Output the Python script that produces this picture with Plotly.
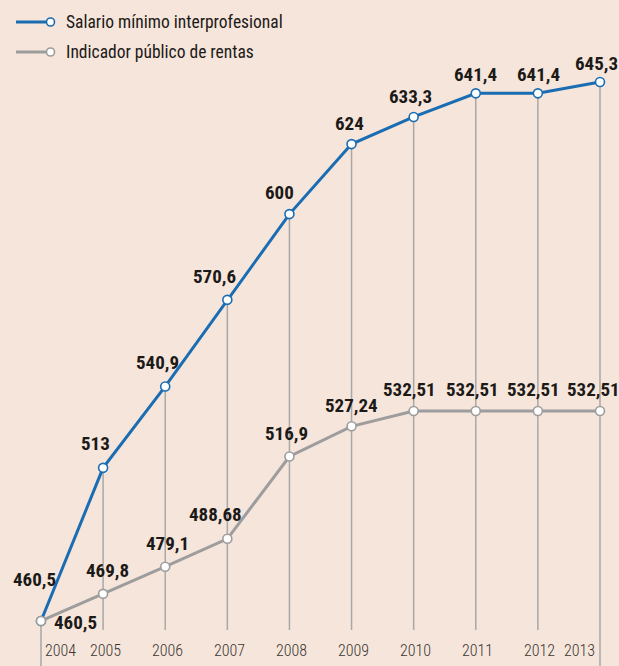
import plotly.graph_objects as go

# ---- data ----
years = [2004, 2005, 2006, 2007, 2008, 2009, 2010, 2011, 2012, 2013]
smi = [460.5, 513, 540.9, 570.6, 600, 624, 633.3, 641.4, 641.4, 645.3]
iprem = [460.5, 469.8, 479.1, 488.68, 516.9, 527.24, 532.51, 532.51, 532.51, 532.51]
series_names = ["Salario mínimo interprofesional", "Indicador público de rentas"]

# ---- style ----
W, H = 619, 666
BG = "#f6e5da"
BLUE = "#1a6db3"
GREY = "#9d9d9d"
VLINE = "#a8a8a8"
TXT = "#1c1a19"
COND = "Roboto Condensed, Open Sans Condensed, DejaVu Sans Condensed, sans-serif"

# label offsets (px) relative to each point
smi_off = [(-6, 41), (-8, 24), (-8, 24), (-13, 23), (-10, 22), (-2, 21), (-3, 20), (0, 19), (1, 19), (-3, 18)]
ipr_off = [(35, -2), (4, 23), (2, 23), (-12, 24), (-3, 23), (0, 21), (-4, 21), (-3, 21), (-4, 21), (-6, 21)]

def fmt(v):
    return f"{v:g}".replace(".", ",")

fig = go.Figure()
fig.add_trace(go.Scatter(
    x=years, y=smi, mode="lines+markers", name=series_names[0],
    line=dict(color=BLUE, width=3),
    marker=dict(size=9, color="white", line=dict(color=BLUE, width=1.6)),
    hoverinfo="skip", showlegend=False))
fig.add_trace(go.Scatter(
    x=years, y=iprem, mode="lines+markers", name=series_names[1],
    line=dict(color=GREY, width=3),
    marker=dict(size=9, color="white", line=dict(color=GREY, width=1.6)),
    hoverinfo="skip", showlegend=False))

x_range = [2003.34, 2013.306]
y_range = [445.07, 673.4]
stub = 457.4

shapes = []
for i, yr in enumerate(years):
    top = max(smi[i], iprem[i])
    end = y_range[0] if i in (0, len(years) - 1) else stub
    shapes.append(dict(type="line", xref="x", yref="y", x0=yr, x1=yr, y0=top, y1=end,
                       line=dict(color=VLINE, width=1.5), layer="below"))

annotations = []
for i, yr in enumerate(years):
    dx, dy = smi_off[i]
    annotations.append(dict(x=yr, y=smi[i], xref="x", yref="y", text=fmt(smi[i]),
                            showarrow=False, xshift=dx, yshift=dy,
                            font=dict(family=COND, size=19, color=TXT, weight="bold")))
    dx, dy = ipr_off[i]
    annotations.append(dict(x=yr, y=iprem[i], xref="x", yref="y", text=fmt(iprem[i]),
                            showarrow=False, xshift=dx, yshift=dy,
                            font=dict(family=COND, size=19, color=TXT, weight="bold")))
    # year labels
    if i == 0:
        xa, xs = "left", 2
    elif i == len(years) - 1:
        xa, xs = "right", -3
    else:
        xa, xs = "center", 2
    annotations.append(dict(x=yr, y=1 - 650 / H, xref="x", yref="paper", text=str(yr),
                            showarrow=False, xanchor=xa, xshift=xs, yanchor="middle",
                            font=dict(family=COND, size=16, color="#3a3633", weight=300)))

# manual legend
for k, (name, col) in enumerate(zip(series_names, [BLUE, GREY])):
    py = 22 + 30 * k
    yp = 1 - py / H
    shapes.append(dict(type="line", xref="paper", yref="paper",
                       x0=16 / W, x1=47 / W, y0=yp, y1=yp, line=dict(color=col, width=3)))
    shapes.append(dict(type="circle", xref="paper", yref="paper",
                       x0=46.5 / W, x1=54.5 / W, y0=yp - 4 / H, y1=yp + 4 / H,
                       fillcolor="white", line=dict(color=col, width=1.6)))
    annotations.append(dict(x=64 / W, y=yp, xref="paper", yref="paper", text=name,
                            showarrow=False, xanchor="left", yanchor="middle",
                            font=dict(family=COND, size=17.5, color=TXT)))

fig.update_layout(
    width=W, height=H, autosize=False,
    margin=dict(l=0, r=0, t=0, b=0),
    paper_bgcolor=BG, plot_bgcolor=BG,
    xaxis=dict(range=x_range, visible=False, fixedrange=True),
    yaxis=dict(range=y_range, visible=False, fixedrange=True),
    shapes=shapes, annotations=annotations,
)

fig.write_html("out.html", config={"displayModeBar": False},
               post_script="document.body.style.margin='0';")
